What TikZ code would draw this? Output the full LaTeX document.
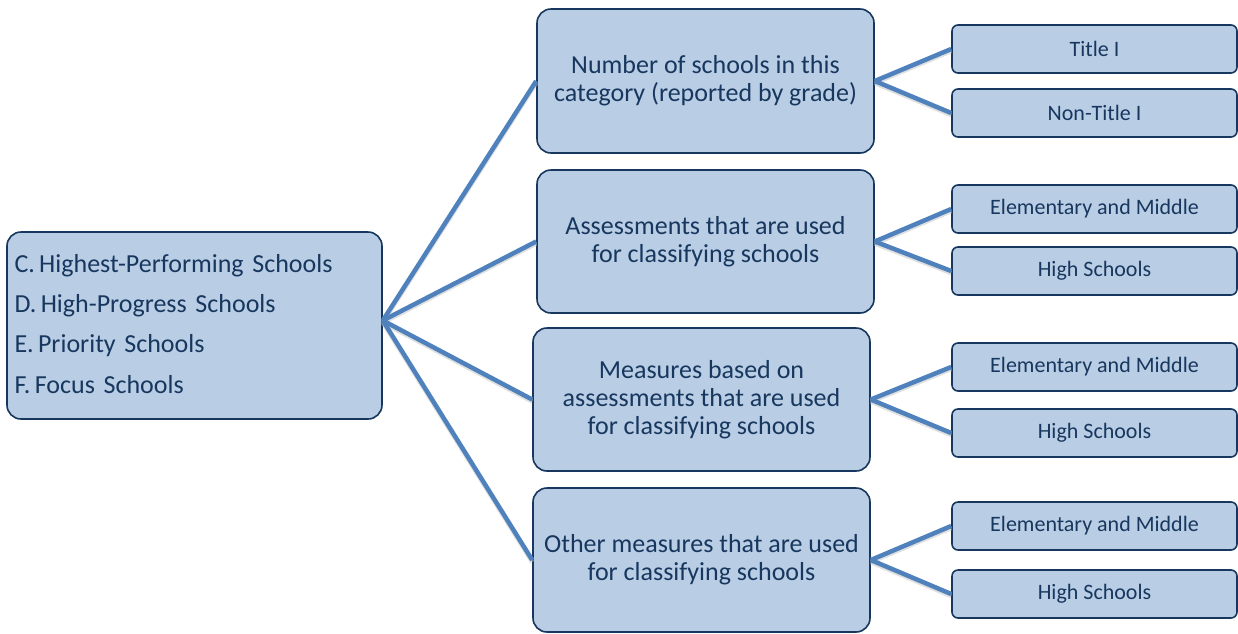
\documentclass[tikz,border=0pt]{standalone}
\usepackage{fontspec}
\setmainfont{Carlito}
\definecolor{boxfill}{RGB}{185,205,229}
\definecolor{boxline}{RGB}{23,55,94}
\definecolor{txt}{RGB}{23,55,94}
\definecolor{conn}{RGB}{79,129,189}
\begin{document}
\begin{tikzpicture}[x=1pt,y=-1pt,
  box/.style={draw=boxline,line width=1.6pt,fill=boxfill,rounded corners=14pt,text=txt,inner sep=0pt},
  midbox/.style={box,minimum width=337pt,minimum height=143pt,align=center,font=\fontsize{26}{28}\selectfont},
  leafbox/.style={box,rounded corners=6pt,minimum width=285pt,minimum height=48pt,font=\fontsize{22}{24}\selectfont},
  conn/.style={draw=conn,line width=4.5pt,preaction={draw=black!25,line width=4.5pt,transform canvas={yshift=-2pt},opacity=0.5}}
]
\useasboundingbox (0,0) rectangle (1238,633);
\node[box,minimum width=375pt,minimum height=187pt,align=left,anchor=center,
  font=\fontsize{26}{40}\selectfont,text width=360pt] (root) at (194.5,325.5)
  {\raisebox{4pt}{C.\,Highest-Performing Schools}\\\raisebox{4pt}{D.\,High-Progress Schools}\\\raisebox{4pt}{E.\,Priority Schools}\\\raisebox{3pt}{F.\,Focus Schools}};
\node[midbox,minimum height=144pt] (m1) at (705.5,81) {Number of schools in this\\category (reported by grade)};
\node[midbox] (m2) at (705.5,241.5) {Assessments that are used\\for classifying schools};
\node[midbox] (m3) at (701.5,399.5) {Measures based on\\assessments that are used\\for classifying schools};
\node[midbox,minimum height=144pt] (m4) at (701.5,560) {Other measures that are used\\for classifying schools};
\node[leafbox] (r1) at (1094.5,49) {Title I};
\node[leafbox] (r2) at (1094.5,113) {Non-Title I};
\node[leafbox] (r3) at (1094.5,209) {Elementary and Middle};
\node[leafbox] (r4) at (1094.5,271) {High Schools};
\node[leafbox] (r5) at (1094.5,367) {Elementary and Middle};
\node[leafbox] (r6) at (1094.5,433) {High Schools};
\node[leafbox] (r7) at (1094.5,526) {Elementary and Middle};
\node[leafbox] (r8) at (1094.5,594) {High Schools};
\foreach \m in {m1,m2,m3,m4} \draw[conn] ([yshift=5pt]root.east) -- (\m.west);
\draw[conn] (m1.east) -- (r1.west);
\draw[conn] (m1.east) -- (r2.west);
\draw[conn] (m2.east) -- (r3.west);
\draw[conn] (m2.east) -- (r4.west);
\draw[conn] (m3.east) -- (r5.west);
\draw[conn] (m3.east) -- (r6.west);
\draw[conn] (m4.east) -- (r7.west);
\draw[conn] (m4.east) -- (r8.west);
\end{tikzpicture}
\end{document}
